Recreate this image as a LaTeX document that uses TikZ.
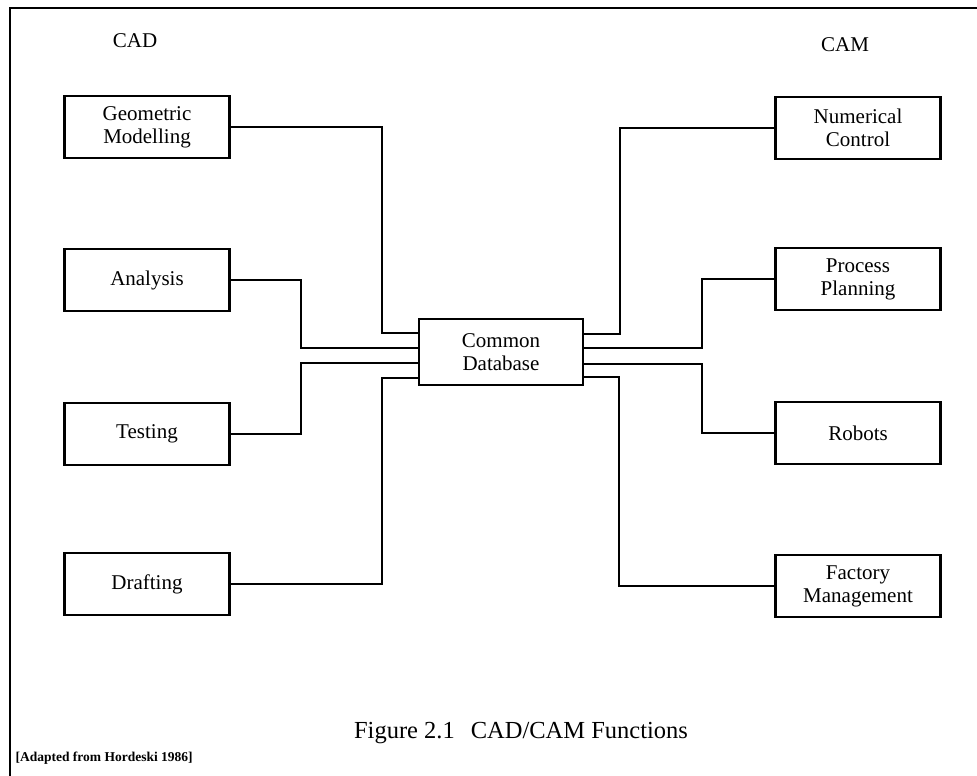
\documentclass[tikz,border=0pt]{standalone}
\usepackage{fontspec}
\setmainfont{Liberation Serif}
\begin{document}
\begin{tikzpicture}[x=1pt,y=-1pt,
  fn/.style={draw,line width=2.6pt,minimum width=165pt,minimum height=62pt,
    inner sep=0pt,align=center,font=\fontsize{21}{23}\selectfont},
  link/.style={line width=1.7pt},
  frame/.style={line width=2.4pt},
  head/.style={font=\fontsize{21}{23}\selectfont}]
\useasboundingbox (0,0) rectangle (977,776);

% page frame (top and left edges)
\coordinate (fTL) at (10,8);
\coordinate (fTR) at (977,8);
\coordinate (fBL) at (10,776);
\draw[frame] (fTR) -- (fTL) -- (fBL);

% column headings
\node[head] (cad) at (135,41) {CAD};
\node[head] (cam) at (845,45) {CAM};

% central store
\node[fn,minimum width=164pt,minimum height=66pt] (cdb) at (501,352) {Common\\Database};

% CAD functions
\node[fn] (gm) at (147,127) {Geometric\\Modelling};
\node[fn] (an) at (147,280) {Analysis};
\node[fn] (te) at (147,434) {Testing};
\node[fn] (dr) at (147,584) {Drafting};

% CAM functions
\node[fn] (nc) at (858,128) {Numerical\\Control};
\node[fn] (pp) at (858,279) {Process\\Planning};
\node[fn] (ro) at (858,433) {Robots};
\node[fn] (fm) at (858,586) {Factory\\Management};

% bend points of the links
\coordinate (gmB) at (382,333);
\coordinate (anB) at (301,348);
\coordinate (teB) at (301,363);
\coordinate (drB) at (382,378);
\coordinate (ncB) at (620,334);
\coordinate (ppB) at (702,348);
\coordinate (roB) at (702,364);
\coordinate (fmB) at (619,377);

% links to the common database
\draw[link] (gm.east) -| (gmB) -- (gmB -| cdb.west);
\draw[link] (an.east) -| (anB) -- (anB -| cdb.west);
\draw[link] (te.east) -| (teB) -- (teB -| cdb.west);
\draw[link] (dr.east) -| (drB) -- (drB -| cdb.west);
\draw[link] (nc.west) -| (ncB) -- (ncB -| cdb.east);
\draw[link] (pp.west) -| (ppB) -- (ppB -| cdb.east);
\draw[link] (ro.west) -| (roB) -- (roB -| cdb.east);
\draw[link] (fm.west) -| (fmB) -- (fmB -| cdb.east);

% caption and source
\node[font=\fontsize{24.5}{27}\selectfont] (cap) at (521,733)
  {Figure 2.1\hspace{16pt}CAD/CAM Functions};
\node[anchor=west,font=\fontsize{13.5}{15}\selectfont\bfseries] (src) at (12,758)
  {[Adapted from Hordeski 1986]};
\end{tikzpicture}
\end{document}
